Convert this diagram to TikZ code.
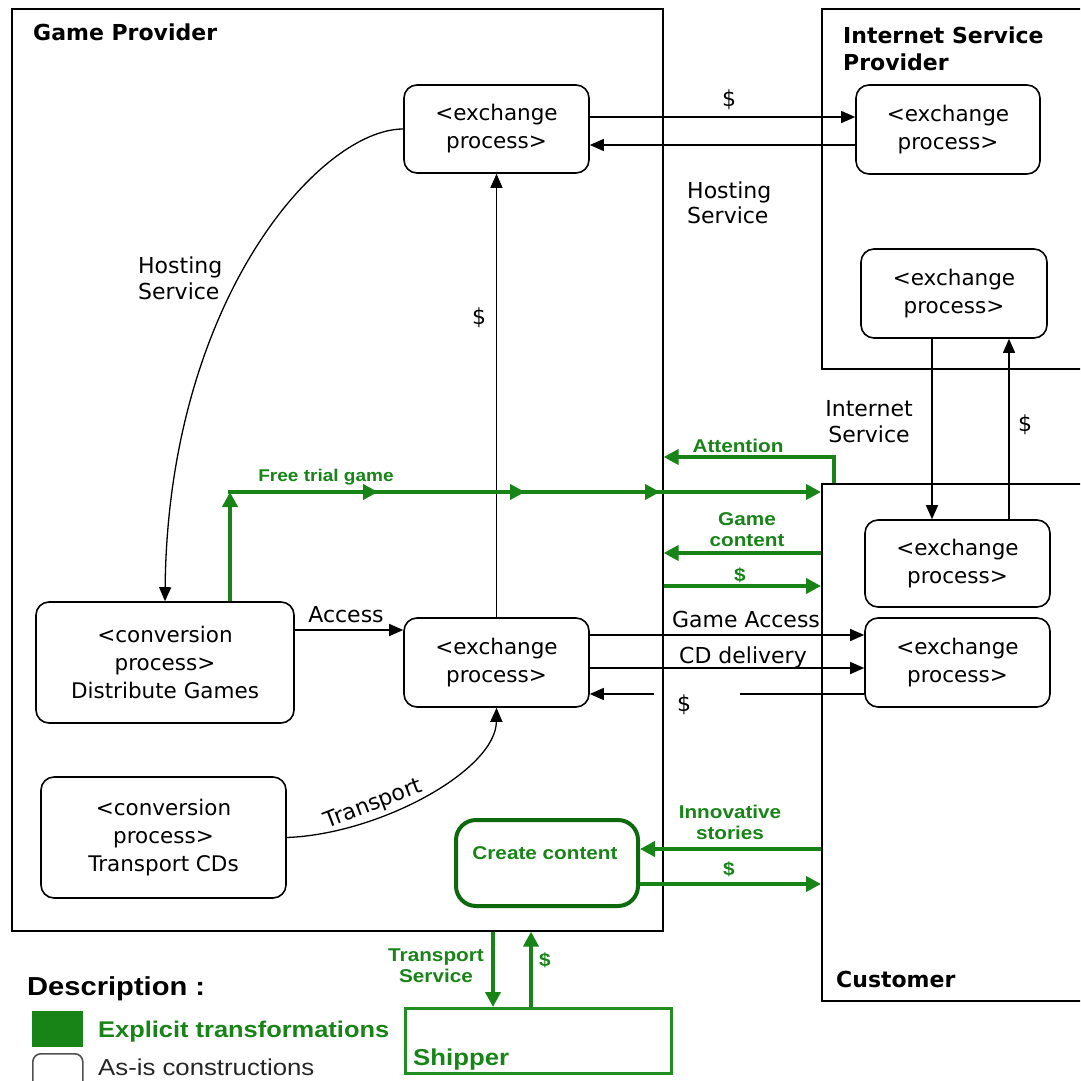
\documentclass[tikz,border=0pt]{standalone}
\usepackage{fontspec}
\setmainfont{DejaVu Sans}
\newfontfamily\arialfont[FakeStretch=1.12]{Liberation Sans}
\usetikzlibrary{arrows.meta,decorations.markings}
\definecolor{explicitgreen}{RGB}{24,132,24}
\definecolor{createedge}{RGB}{12,106,12}
\definecolor{shipedge}{RGB}{34,142,34}
\definecolor{asisedge}{RGB}{80,80,80}
\begin{document}
\begin{tikzpicture}[x=1pt,y=-1pt,
  container/.style={draw, line width=1.6pt, anchor=north west, inner sep=0pt},
  proc/.style={draw, rounded corners=13pt, line width=1.6pt, align=center, inner sep=0pt,
    font=\fontsize{21.5}{28}\selectfont},
  title/.style={font=\bfseries\fontsize{22}{27}\selectfont, inner sep=0pt, align=left},
  lbl/.style={font=\fontsize{22}{26}\selectfont, inner sep=0pt},
  glbl/.style={text=explicitgreen, font=\arialfont\bfseries\fontsize{18.5}{21}\selectfont,
    inner sep=0pt, align=center},
  barrow/.style={line width=1.3pt, -{Triangle[length=14pt,width=12pt]}},
  garrow/.style={color=explicitgreen, line width=4pt, -{Triangle[length=15pt,width=15pt]}},
]
\fill[white] (0,0) rectangle (1080,1081);
\clip (0,0) rectangle (1080,1081);

% actor boundaries
\node[container, minimum width=651pt, minimum height=922pt] (gp) at (11,8) {};
\node[container, minimum width=269pt, minimum height=360pt] (isp) at (821,8) {};
\node[container, minimum width=269pt, minimum height=517pt] (cust) at (821,483) {};

\node[title, anchor=base west] (gptitle) at (33,41) {Game Provider};
\node[title, anchor=north west] (isptitle) at (843,27) {Internet Service\\Provider};
\node[title, anchor=base west] (custtitle) at (836,987) {Customer};

% value activities
\node[proc, minimum width=185pt, minimum height=88pt] (e1) at (496.5,129) {<exchange\\process>};
\node[proc, minimum width=185pt, minimum height=89pt] (e2) at (496.5,662.5) {<exchange\\process>};
\node[proc, minimum width=258pt, minimum height=121pt] (dg) at (165,662.5) {<conversion\\process>\\Distribute Games};
\node[proc, minimum width=245pt, minimum height=121pt] (tcd) at (163.5,837.5) {<conversion\\process>\\Transport CDs};
\node[proc, minimum width=184pt, minimum height=89pt] (ispa) at (948,129.5) {<exchange\\process>};
\node[proc, minimum width=186pt, minimum height=89pt] (ispb) at (954,293.5) {<exchange\\process>};
\node[proc, minimum width=185pt, minimum height=87pt] (ce1) at (957.5,563.5) {<exchange\\process>};
\node[proc, minimum width=185pt, minimum height=89pt] (ce2) at (957.5,662.5) {<exchange\\process>};

\node[draw=createedge, line width=4pt, rounded corners=20pt, minimum width=182pt, minimum height=86pt] (cc) at (547,863) {};
\node[glbl, anchor=base] (cctext) at (545,859) {Create content};

\node[draw=shipedge, line width=3pt, minimum width=266pt, minimum height=65pt, anchor=north west, inner sep=0pt] (ship) at (404,1007) {};
\node[glbl, font=\arialfont\bfseries\fontsize{23}{26}\selectfont, anchor=base west] (shiptext) at (413,1065) {Shipper};

% as-is value transfers
\draw[barrow] (e1.east |- 0,117) -- (ispa.west |- 0,117);
\node[lbl] (l1) at (729,100) {\$};
\draw[barrow] (ispa.west |- 0,145) -- (e1.east |- 0,145);
\node[lbl, align=left, anchor=west, font=\fontsize{22}{24.5}\selectfont] (l2) at (687,203) {Hosting\\Service};

\draw[barrow] (e1.west) .. controls (320,129) and (168,300) .. (dg.north);
\node[lbl, align=left, anchor=west] (l3) at (138,278) {Hosting\\Service};

\draw[barrow] (e2.north) -- (e1.south);
\node[lbl] (l4) at (479,318) {\$};

\draw[barrow] (dg.east |- 0,630) -- (e2.west |- 0,630);
\node[lbl, anchor=base] (l5) at (346,622) {Access};

\draw[barrow] (tcd.east) .. controls (380,834) and (496,770) .. (e2.south)
  node[lbl, pos=0.32, sloped, above=3pt] (l6) {Transport};

\draw[barrow] (932,0 |- ispb.south) -- (932,0 |- ce1.north);
\node[lbl, align=center, font=\fontsize{22}{26}\selectfont] (l7) at (869,422) {Internet\\Service};
\draw[barrow] (1009,0 |- ce1.north) -- (1009,0 |- ispb.south);
\node[lbl] (l8) at (1025,425) {\$};

\draw[barrow] (e2.east |- 0,635) -- (ce2.west |- 0,635);
\node[lbl, anchor=base] (l9) at (746,627) {Game Access};
\draw[barrow] (e2.east |- 0,668) -- (ce2.west |- 0,668);
\node[lbl, anchor=base] (l10) at (743,663) {CD delivery};
\draw[barrow, dash pattern=on 124pt off 86pt on 300pt] (ce2.west |- 0,694) -- (e2.east |- 0,694);
\node[lbl] (l11) at (684,705) {\$};

% explicit transformations
\coordinate (ftturn) at (230,492);
\draw[garrow] (230,0 |- dg.north) -- (ftturn);
\draw[garrow, postaction={decorate}, decoration={markings,
    mark=at position 150pt with {\arrow{Triangle[length=15pt,width=15pt]}},
    mark=at position 297pt with {\arrow{Triangle[length=15pt,width=15pt]}},
    mark=at position 432pt with {\arrow{Triangle[length=15pt,width=15pt]}}}]
  ([xshift=-2pt]ftturn) -- (cust.west |- ftturn);
\node[glbl, font=\arialfont\bfseries\fontsize{17}{20}\selectfont, anchor=base] (g1) at (326,481) {Free trial game};

\draw[garrow] (834,0 |- cust.north) |- (gp.east |- 0,457);
\node[glbl, anchor=base] (g2) at (738,452) {Attention};

\draw[garrow] (cust.west |- 0,553) -- (gp.east |- 0,553);
\node[glbl] (g3) at (747,530) {Game\\content};
\draw[garrow] (gp.east |- 0,586) -- (cust.west |- 0,586);
\node[glbl] (g4) at (740,575) {\$};

\draw[garrow] (cust.west |- 0,849) -- (cc.east |- 0,849);
\node[glbl] (g5) at (730,822) {Innovative\\stories};
\draw[garrow] (cc.east |- 0,884) -- (cust.west |- 0,884);
\node[glbl] (g6) at (729,869) {\$};

\draw[garrow] (493,0 |- gp.south) -- (493,0 |- ship.north);
\node[glbl] (g7) at (436,966) {Transport\\Service};
\draw[garrow] (531,0 |- ship.north) -- (531,0 |- gp.south);
\node[glbl] (g8) at (545,960) {\$};

% legend
\node[anchor=base west, inner sep=0pt, font=\arialfont\bfseries\fontsize{26}{30}\selectfont] (desc) at (27,995) {Description :};
\node[fill=explicitgreen, minimum width=51pt, minimum height=36pt, inner sep=0pt, anchor=north west] (keyg) at (32,1011) {};
\node[glbl, anchor=base west, font=\arialfont\bfseries\fontsize{22.7}{26}\selectfont] (keygt) at (98,1037) {Explicit transformations};
\node[draw=asisedge, line width=1.6pt, rounded corners=8pt, minimum width=50pt, minimum height=40pt, inner sep=0pt, anchor=north west] (keyw) at (32,1053) {};
\node[anchor=base west, inner sep=0pt, text=black!85, font=\arialfont\fontsize{23}{26}\selectfont] (keywt) at (98,1075) {As-is constructions};
\end{tikzpicture}
\end{document}
